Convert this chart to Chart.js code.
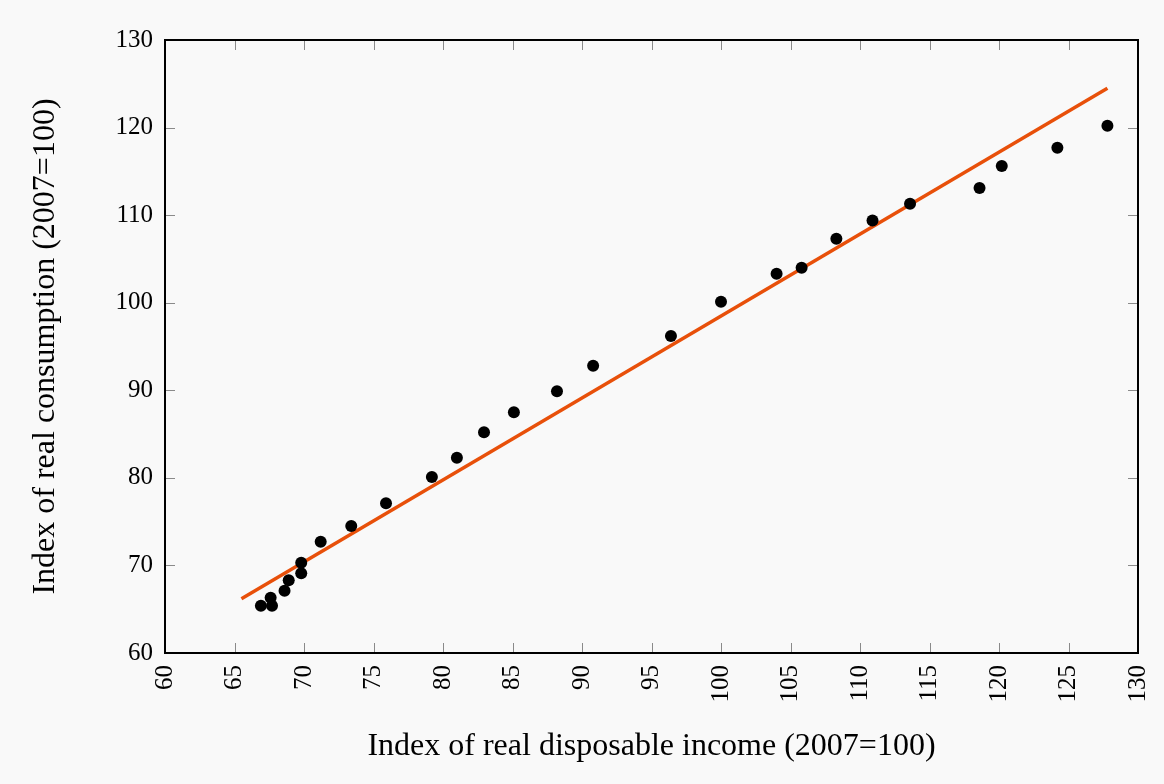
<!DOCTYPE html>
<html>
<head>
<meta charset="utf-8">
<script src="https://cdn.jsdelivr.net/npm/chart.js@4"></script>
<style>
  html, body { margin: 0; padding: 0; background: #f9f9f9; }
  #wrap { width: 1164px; height: 784px; }
</style>
</head>
<body>
<div id="wrap"><canvas id="myChart" width="1164" height="784"></canvas></div>
<script>
// data
var income = [66.9, 67.6, 67.7, 68.6, 68.9, 69.8, 69.8, 71.2, 73.4, 75.9, 79.2, 81.0, 82.95, 85.1, 88.2, 90.8,
              96.4, 100.0, 104.0, 105.8, 108.3, 110.9, 113.6, 118.6, 120.2, 124.2, 127.8];
var consumption = [65.4, 66.3, 65.4, 67.1, 68.3, 69.1, 70.3, 72.7, 74.5, 77.1, 80.1, 82.3, 85.2, 87.5, 89.9, 92.8,
                   96.2, 100.1, 103.3, 104.0, 107.3, 109.4, 111.3, 113.1, 115.6, 117.7, 120.2];
var fitX = [65.5, 127.8];
var fitY = [66.2, 124.5];
var xTicks = [60, 65, 70, 75, 80, 85, 90, 95, 100, 105, 110, 115, 120, 125, 130];
var yTicks = [60, 70, 80, 90, 100, 110, 120, 130];

var serif = '"Liberation Serif", "Times New Roman", serif';

// ticks drawn inward on all four sides + frame
var frame = {
    id: 'frame',
    beforeDatasetsDraw: function(chart) {
        var c = chart.ctx, a = chart.chartArea;
        var sx = chart.scales.x, sy = chart.scales.y;
        c.save();
        c.strokeStyle = '#8a8a8a';
        c.lineWidth = 1;
        c.beginPath();
        for (let v of xTicks) {
            var px = Math.round(sx.getPixelForValue(v)) + 0.5;
            c.moveTo(px, a.bottom); c.lineTo(px, a.bottom - 10);
            c.moveTo(px, a.top); c.lineTo(px, a.top + 10);
        }
        for (let v of yTicks) {
            var py = Math.round(sy.getPixelForValue(v)) + 0.5;
            c.moveTo(a.left, py); c.lineTo(a.left + 10, py);
            c.moveTo(a.right, py); c.lineTo(a.right - 10, py);
        }
        c.stroke();
        c.restore();
    },
    afterDraw: function(chart) {
        var c = chart.ctx, a = chart.chartArea;
        c.save();
        c.strokeStyle = '#000';
        c.lineWidth = 2;
        c.strokeRect(a.left, a.top, a.right - a.left, a.bottom - a.top);
        c.restore();
    }
};

var points = income.map(function(v, i) { return {x: v, y: consumption[i]}; });
var fit = fitX.map(function(v, i) { return {x: v, y: fitY[i]}; });

var ctx = document.getElementById('myChart').getContext('2d');
var chart = new Chart(ctx, {
    type: 'scatter',
    data: {
        datasets: [
            {
                type: 'line',
                data: fit,
                borderColor: '#e8500a',
                borderWidth: 3.5,
                pointRadius: 0,
                fill: false,
                order: 1
            },
            {
                data: points,
                backgroundColor: '#000',
                borderColor: '#000',
                pointRadius: 6,
                borderWidth: 0,
                order: 0
            }
        ]
    },
    options: {
        responsive: false,
        animation: false,
        events: [],
        layout: { padding: { top: 40, right: 26, left: 0, bottom: 0 } },
        plugins: { legend: { display: false }, tooltip: { enabled: false } },
        scales: {
            x: {
                type: 'linear',
                min: 60, max: 130,
                afterBuildTicks: function(s) { s.ticks = xTicks.map(function(v) { return {value: v}; }); },
                afterFit: function(s) { s.height = 131; s.paddingRight = 0; s.paddingLeft = 0; },
                grid: { display: false, drawTicks: false },
                border: { display: false },
                ticks: {
                    autoSkip: false, minRotation: 90, maxRotation: 90, padding: 12,
                    color: '#000', font: { family: serif, size: 25 }
                },
                title: {
                    display: true, text: 'Index of real disposable income (2007=100)',
                    color: '#000', font: { family: serif, size: 32 }, padding: { bottom: 18 }
                }
            },
            y: {
                type: 'linear',
                min: 60, max: 130,
                afterBuildTicks: function(s) { s.ticks = yTicks.map(function(v) { return {value: v}; }); },
                afterFit: function(s) { s.width = 165; s.paddingTop = 0; s.paddingBottom = 0; },
                grid: { display: false, drawTicks: false },
                border: { display: false },
                ticks: { padding: 12, color: '#000', font: { family: serif, size: 25 } },
                title: {
                    display: true, text: 'Index of real consumption (2007=100)',
                    color: '#000', font: { family: serif, size: 32 }, padding: { top: 26 }
                }
            }
        }
    },
    plugins: [frame]
});
</script>
</body>
</html>
